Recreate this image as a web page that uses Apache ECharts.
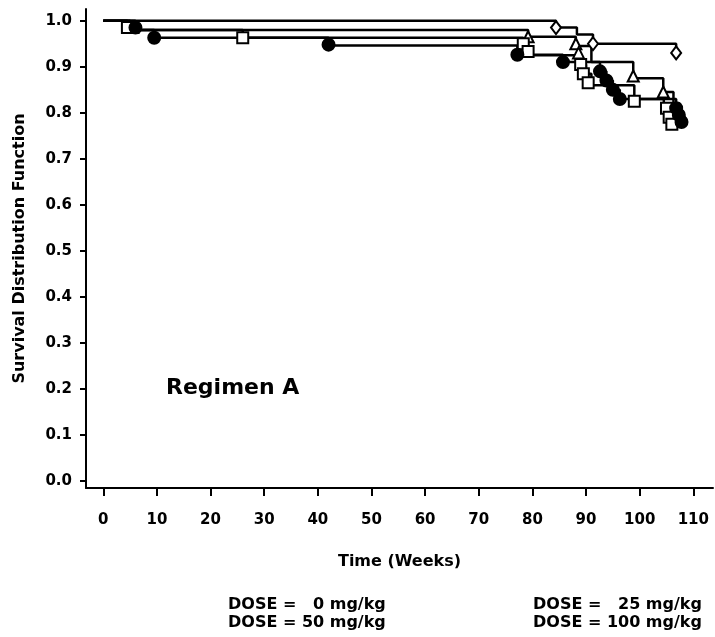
<!DOCTYPE html>
<html>
<head>
<meta charset="utf-8">
<script src="https://cdn.jsdelivr.net/npm/echarts@6/dist/echarts.min.js"></script>
<style>
html,body{margin:0;padding:0;background:#fff;}
#chart{width:715px;height:637px;}
</style>
</head>
<body>
<div id="chart"></div>
<script>
// ---- data ----
const doseNames = ['DOSE =   0 mg/kg', 'DOSE =   25 mg/kg', 'DOSE = 50 mg/kg', 'DOSE = 100 mg/kg'];
const xTicks = [0, 10, 20, 30, 40, 50, 60, 70, 80, 90, 100, 110];
const yTicks = [0.0, 0.1, 0.2, 0.3, 0.4, 0.5, 0.6, 0.7, 0.8, 0.9, 1.0];

// 0 mg/kg (diamonds)
const t0 = [0, 84.4, 88.3, 91.3, 106.8];
const s0 = [1.0, 0.985, 0.97, 0.95, 0.93];
const m0 = [[84.4, 0.985], [91.3, 0.95], [106.8, 0.93]];

// 25 mg/kg (triangles)
const t25 = [0, 5, 79.2, 88.1, 91.0, 98.8, 104.4, 106.3, 107.5];
const s25 = [1.0, 0.98, 0.965, 0.945, 0.91, 0.875, 0.845, 0.82, 0.80];
const m25 = [[5.5, 0.985], [79.2, 0.965], [88.1, 0.95], [88.6, 0.93], [98.8, 0.88], [104.4, 0.845], [107.5, 0.80]];

// 50 mg/kg (squares)
const t50 = [0, 4.5, 26, 78.3, 79.5, 89, 90, 91, 99, 104.5, 105.6, 106.5];
const s50 = [1.0, 0.98, 0.963, 0.945, 0.925, 0.905, 0.885, 0.86, 0.83, 0.81, 0.79, 0.775];
const m50 = [[4.5, 0.985], [26, 0.963], [78.3, 0.95], [79.2, 0.933], [89, 0.905], [89.5, 0.885], [90.4, 0.865], [99, 0.825], [105, 0.81], [105.5, 0.79], [106, 0.775]];

// 100 mg/kg (filled circles)
const t100 = [0, 6, 9.5, 42, 77.2, 85.7, 92.6, 93.8, 95, 96.3, 106.8, 107.3, 107.8];
const s100 = [1.0, 0.98, 0.963, 0.946, 0.926, 0.91, 0.89, 0.87, 0.85, 0.83, 0.81, 0.795, 0.78];
const m100 = [[6, 0.985], [9.5, 0.963], [42, 0.948], [77.2, 0.926], [85.7, 0.91], [92.6, 0.89], [93.8, 0.87], [95, 0.85], [96.3, 0.83], [106.8, 0.81], [107.3, 0.795], [107.8, 0.78]];

// ---- chart ----
const FONT = 'DejaVu Sans';
const pairs = (t, s) => t.map((x, i) => [x, s[i]]);
const lineSeries = (name, t, s) => ({
  name: name, type: 'line', step: 'end', data: pairs(t, s),
  showSymbol: false, symbol: 'none', lineStyle: { color: '#000', width: 2.5 },
  itemStyle: { color: '#000' }, silent: true, z: 2, animation: false
});
const markSeries = (data, symbol, size, filled) => ({
  type: 'scatter', data: data, symbol: symbol, symbolSize: size,
  itemStyle: { color: filled ? '#000' : '#fff', borderColor: '#000', borderWidth: 2, opacity: 1 },
  silent: true, z: 3, animation: false
});

const chart = echarts.init(document.getElementById('chart'), null, { renderer: 'canvas' });
chart.setOption({
  backgroundColor: '#fff',
  animation: false,
  title: {
    text: 'Regimen A', left: 166, top: 377, padding: 0,
    textStyle: { fontFamily: FONT, fontWeight: 'bold', fontSize: 22, color: '#000' }
  },
  legend: [
    {
      data: [doseNames[0], doseNames[2]], orient: 'vertical', left: 223, top: 597, padding: 0,
      itemWidth: 0, itemHeight: 0, itemGap: 2, icon: 'rect', selectedMode: false,
      itemStyle: { opacity: 0 }, lineStyle: { opacity: 0 },
      textStyle: { fontFamily: FONT, fontWeight: 'bold', fontSize: 16, color: '#000', lineHeight: 16 }
    },
    {
      data: [doseNames[1], doseNames[3]], orient: 'vertical', left: 528, top: 597, padding: 0,
      itemWidth: 0, itemHeight: 0, itemGap: 2, icon: 'rect', selectedMode: false,
      itemStyle: { opacity: 0 }, lineStyle: { opacity: 0 },
      textStyle: { fontFamily: FONT, fontWeight: 'bold', fontSize: 16, color: '#000', lineHeight: 16 }
    }
  ],
  grid: { left: 86, right: 2, top: 9, bottom: 149, containLabel: false },
  xAxis: {
    type: 'value', min: -3.22, max: 113.67,
    name: 'Time (Weeks)', nameLocation: 'middle', nameGap: 66,
    nameTextStyle: { fontFamily: FONT, fontWeight: 'bold', fontSize: 16, color: '#000' },
    axisLine: { show: true, onZero: false, lineStyle: { color: '#000', width: 2 } },
    axisTick: { show: true, length: 8, customValues: xTicks, lineStyle: { color: '#000', width: 2 } },
    axisLabel: { customValues: xTicks, margin: 25, fontFamily: FONT, fontWeight: 'bold', fontSize: 15, color: '#000' },
    splitLine: { show: false }
  },
  yAxis: {
    type: 'value', min: -0.0152, max: 1.0254,
    name: 'Survival Distribution Function', nameLocation: 'middle', nameGap: 58,
    nameTextStyle: { fontFamily: FONT, fontWeight: 'bold', fontSize: 16, color: '#000' },
    axisLine: { show: true, onZero: false, lineStyle: { color: '#000', width: 2 } },
    axisTick: { show: true, length: 6, customValues: yTicks, lineStyle: { color: '#000', width: 2 } },
    axisLabel: { customValues: yTicks, margin: 14, fontFamily: FONT, fontWeight: 'bold', fontSize: 15, color: '#000',
      formatter: v => Number(v).toFixed(1) },
    splitLine: { show: false }
  },
  series: [
    lineSeries(doseNames[0], t0, s0),
    lineSeries(doseNames[1], t25, s25),
    lineSeries(doseNames[2], t50, s50),
    lineSeries(doseNames[3], t100, s100),
    markSeries(m0, 'diamond', [10, 13], false),
    markSeries(m25, 'triangle', [11, 11], false),
    markSeries(m50, 'rect', [11, 11], false),
    markSeries(m100, 'circle', 12, true)
  ]
});
</script>
</body>
</html>
